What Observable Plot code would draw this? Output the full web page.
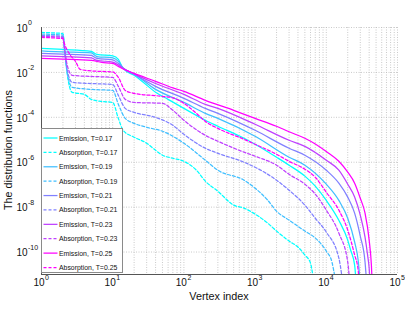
<!DOCTYPE html>
<html><head><meta charset="utf-8">
<script src="https://cdn.jsdelivr.net/npm/d3@7"></script>
<script src="https://cdn.jsdelivr.net/npm/@observablehq/plot@0.6"></script>
<style>
body{margin:0;background:#fff;font-family:"Liberation Sans",Arial,Helvetica,sans-serif}
#wrap{position:relative;width:405px;height:313px;overflow:hidden}
#wrap svg{display:block}
.lab{position:absolute;white-space:nowrap;line-height:1;font-size:10.8px;color:#111}
#legend{position:absolute;left:41px;top:128px;width:82px;height:145px;background:#fff;border:1px solid #8a8a8a;box-sizing:border-box}
</style></head><body><div id="wrap"></div>
<script>
const temps = ["0.17","0.19","0.21","0.23","0.25"];
const colors = ["#00ffff","#40bfff","#8080ff","#bf40ff","#ff00ff"];
const xTicks = [1,10,100,1000,10000,100000];
const xTickExps = ["0","1","2","3","4","5"];
const yTicks = [1,1e-2,1e-4,1e-6,1e-8,1e-10];
const yTickExps = ["0","-2","-4","-6","-8","-10"];

const emission017 = [[1,0.117],[2,0.105],[5,0.086],[6,0.063],[10,0.054],[12,0.038],[14,0.015],[20,7.4e-3],[25,4.4e-3],[40,1.3e-3],[60,6.3e-4],[100,2.5e-4],[200,7.4e-5],[300,4.0e-5],[700,1.17e-5],[1000,6.3e-6],[2000,1.67e-6],[3000,7.4e-7],[5000,2.4e-7],[7000,8.6e-8],[10000,2.0e-8],[15000,2.6e-9],[20000,3.4e-10],[22000,1.2e-10],[25000,2.6e-11],[27000,1e-12]];
const emission019 = [[1,0.090],[2,0.082],[5,0.074],[6,0.051],[10,0.044],[12,0.031],[14,0.0158],[20,8.6e-3],[40,1.75e-3],[100,4.6e-4],[200,1.5e-4],[300,9.0e-5],[1000,1.43e-5],[3000,1.67e-6],[5000,7.4e-7],[10000,1.05e-7],[15000,2.0e-8],[20000,3.2e-9],[25000,2.8e-10],[28000,4.4e-11],[31000,1e-12]];
const emission021 = [[1,0.070],[2,0.065],[5,0.057],[6,0.042],[10,0.036],[12,0.025],[14,0.0158],[20,8.1e-3],[40,2.4e-3],[100,7.0e-4],[200,2.5e-4],[300,1.5e-4],[1000,2.64e-5],[3000,4.2e-6],[5000,2.05e-6],[10000,4.4e-7],[15000,1.17e-7],[20000,2.8e-8],[25000,5.4e-9],[30000,5.1e-10],[35000,3.6e-11],[38000,1e-12]];
const emission023 = [[1,0.054],[2,0.050],[5,0.044],[6,0.034],[10,0.029],[12,0.0215],[14,0.015],[20,8.6e-3],[40,3.2e-3],[100,1.05e-3],[200,3.8e-4],[300,2.5e-4],[1000,4.9e-5],[3000,9.5e-6],[5000,5.1e-6],[10000,1.23e-6],[15000,4.4e-7],[20000,1.05e-7],[25000,2.8e-8],[30000,4.4e-9],[35000,4.6e-10],[38000,7.4e-11],[40000,1.9e-11],[42000,1e-12]];
const emission025 = [[1,0.042],[2,0.039],[5,0.034],[7,0.028],[10,0.025],[12,0.0185],[15,0.0129],[20,9.0e-3],[40,4.0e-3],[70,2.05e-3],[100,1.43e-3],[200,5.7e-4],[500,2.05e-4],[1000,9.0e-5],[2000,4.0e-5],[3000,2.27e-5],[5000,1.17e-5],[7000,6.5e-6],[10000,3.0e-6],[15000,1.1e-6],[20000,3.6e-7],[25000,1.17e-7],[30000,2.5e-8],[35000,5.4e-9],[40000,3.4e-10],[43000,2.6e-11],[45000,1e-12]];

const absorption017 = [[1,0.60],[2,0.54],[2.1,0.158],[2.2,0.028],[2.4,3.6e-3],[2.7,1.3e-3],[4,1.05e-3],[5,6.3e-4],[7,5.1e-4],[10,4.6e-4],[12,9.0e-5],[14,2.64e-5],[20,1.3e-5],[30,7.0e-6],[40,3.4e-6],[50,2.05e-6],[70,1.5e-6],[100,1.1e-6],[150,4.4e-7],[200,1.43e-7],[300,5.1e-8],[500,1.23e-8],[700,9.0e-9],[1000,4.9e-9],[1500,1.95e-9],[2000,8.6e-10],[3000,3.1e-10],[4000,1.67e-10],[5000,7.4e-11],[6000,3.2e-11],[7000,1e-12]];
const absorption019 = [[1,0.51],[2,0.46],[2.1,0.117],[2.3,0.010],[2.7,2.15e-3],[5,1.75e-3],[10,1.58e-3],[12,3.8e-4],[15,9.0e-5],[20,5.4e-5],[30,3.6e-5],[50,2.4e-5],[100,7.0e-6],[200,1.23e-6],[300,4.4e-7],[700,1.58e-7],[1000,7.0e-8],[1500,2.05e-8],[2000,6.6e-9],[3000,2.64e-9],[5000,8.6e-10],[7000,4.2e-10],[10000,1.1e-10],[12000,3.6e-11],[14500,1e-12]];
const absorption021 = [[1,0.44],[2,0.40],[2.1,0.095],[2.3,0.0123],[2.7,3.6e-3],[5,3.2e-3],[10,2.9e-3],[12,9.5e-4],[15,2.5e-4],[20,1.67e-4],[40,1.0e-4],[70,4.4e-5],[100,1.75e-5],[200,4.2e-6],[300,2.5e-6],[700,1.0e-6],[1000,6.0e-7],[2000,1.58e-7],[3000,5.7e-8],[5000,1.23e-8],[7000,3.2e-9],[10000,7.7e-10],[15000,5.4e-11],[18000,1e-12]];
const absorption023 = [[1,0.40],[2,0.36],[2.1,0.13],[2.3,0.0205],[2.7,7.4e-3],[5,6.6e-3],[10,6.0e-3],[12,2.4e-3],[15,6.3e-4],[20,4.6e-4],[50,4.2e-4],[70,2.05e-4],[100,7.4e-5],[200,1.58e-5],[300,8.6e-6],[700,2.8e-6],[1000,1.85e-6],[2000,7.4e-7],[3000,2.9e-7],[5000,1.05e-7],[7000,3.8e-8],[10000,7.4e-9],[15000,7.0e-10],[20000,3.6e-11],[22000,1e-12]];
const absorption025 = [[1,0.36],[2,0.32],[2.1,0.19],[2.5,0.063],[3,0.031],[3.5,0.0136],[5,0.0117],[10,0.0105],[12,6.0e-3],[15,1.58e-3],[20,1.17e-3],[50,8.6e-4],[70,7.4e-4],[100,4.2e-4],[150,1.5e-4],[200,6.6e-5],[300,3.2e-5],[700,1.05e-5],[1000,6.3e-6],[2000,2.27e-6],[3000,1.1e-6],[5000,4.9e-7],[7000,2.15e-7],[10000,4.6e-8],[15000,7.4e-9],[20000,9.5e-10],[25000,7.4e-11],[28000,1.6e-11],[30000,1e-12]];

const emissions = [emission017, emission019, emission021, emission023, emission025];
const absorptions = [absorption017, absorption019, absorption021, absorption023, absorption025];

const series = [];
temps.forEach((t, i) => {
  series.push({name: `Emission, T=${t}`, data: emissions[i], color: colors[i], dash: null});
  series.push({name: `Absorption, T=${t}`, data: absorptions[i], color: colors[i], dash: "3,2"});
});

// grid positions (1..9 per decade)
const xGrid = [];
for (let d = 1; d < 1e5; d *= 10) for (let k = 1; k < 10; k++) xGrid.push(k * d);
xGrid.push(1e5);

const lineMarks = series.map(s => Plot.line(s.data, {
  x: d => d[0], y: d => d[1], stroke: s.color, strokeWidth: 1.25,
  strokeDasharray: s.dash, curve: "monotone-x", clip: true
}));

const chart = Plot.plot({
  width: 405, height: 313,
  marginLeft: 41, marginRight: 8, marginTop: 27, marginBottom: 39,
  x: {type: "log", domain: [1, 1e5], axis: null},
  y: {type: "log", domain: [1e-11, 1], axis: null},
  style: {fontFamily: '"Liberation Sans",Arial,Helvetica,sans-serif', background: "#fff", color: "#111"},
  marks: [
    Plot.ruleX(xGrid, {stroke: "#bdbdbd", strokeDasharray: "1,1.5", strokeWidth: 0.8}),
    Plot.ruleY(yTicks, {stroke: "#bdbdbd", strokeDasharray: "1,1.5", strokeWidth: 0.8}),
    ...lineMarks,
    Plot.ruleX([1], {stroke: "#555", strokeWidth: 1}),
    Plot.ruleY([1e-11], {stroke: "#555", strokeWidth: 1}),
    Plot.text(xTicks, {x: d => d, text: () => "10", frameAnchor: "bottom", textAnchor: "end", dx: 3, dy: 11, fontSize: 10}),
    Plot.text(xTicks, {x: d => d, text: (d, i) => xTickExps[i], frameAnchor: "bottom", textAnchor: "start", dx: 3.5, dy: 5.5, fontSize: 7}),
    Plot.text(yTicks, {y: d => d, text: () => "10", frameAnchor: "left", textAnchor: "end", dx: -14, dy: 1, fontSize: 10}),
    Plot.text(yTicks, {y: d => d, text: (d, i) => yTickExps[i], frameAnchor: "left", textAnchor: "start", dx: -13.5, dy: -4.5, fontSize: 7})
  ]
});

const wrap = document.getElementById("wrap");
wrap.appendChild(chart);

const xl = document.createElement("div");
xl.className = "lab"; xl.textContent = "Vertex index";
xl.style.left = "219px"; xl.style.top = "290.5px"; xl.style.transform = "translateX(-50%)";
wrap.appendChild(xl);

const yl = document.createElement("div");
yl.className = "lab"; yl.textContent = "The distribution functions";
yl.style.left = "8px"; yl.style.top = "150px"; yl.style.transform = "translate(-50%,-50%) rotate(-90deg)";
wrap.appendChild(yl);

// legend
const lg = document.createElement("div");
lg.id = "legend";
const ns = "http://www.w3.org/2000/svg";
const lsvg = document.createElementNS(ns, "svg");
lsvg.setAttribute("width", 80); lsvg.setAttribute("height", 143);
lsvg.style.fontFamily = '"Liberation Sans",Arial,Helvetica,sans-serif';
series.forEach((s, i) => {
  const cy = 9 + i * 14.39;
  const ln = document.createElementNS(ns, "line");
  ln.setAttribute("x1", 1.5); ln.setAttribute("x2", 15.5);
  ln.setAttribute("y1", cy); ln.setAttribute("y2", cy);
  ln.setAttribute("stroke", s.color); ln.setAttribute("stroke-width", 1.25);
  if (s.dash) ln.setAttribute("stroke-dasharray", s.dash);
  lsvg.appendChild(ln);
  const tx = document.createElementNS(ns, "text");
  tx.setAttribute("x", 17); tx.setAttribute("y", cy + 2.5);
  tx.setAttribute("font-size", 6.9); tx.setAttribute("fill", "#111");
  tx.textContent = s.name;
  lsvg.appendChild(tx);
});
lg.appendChild(lsvg);
wrap.appendChild(lg);
</script>
</body></html>
